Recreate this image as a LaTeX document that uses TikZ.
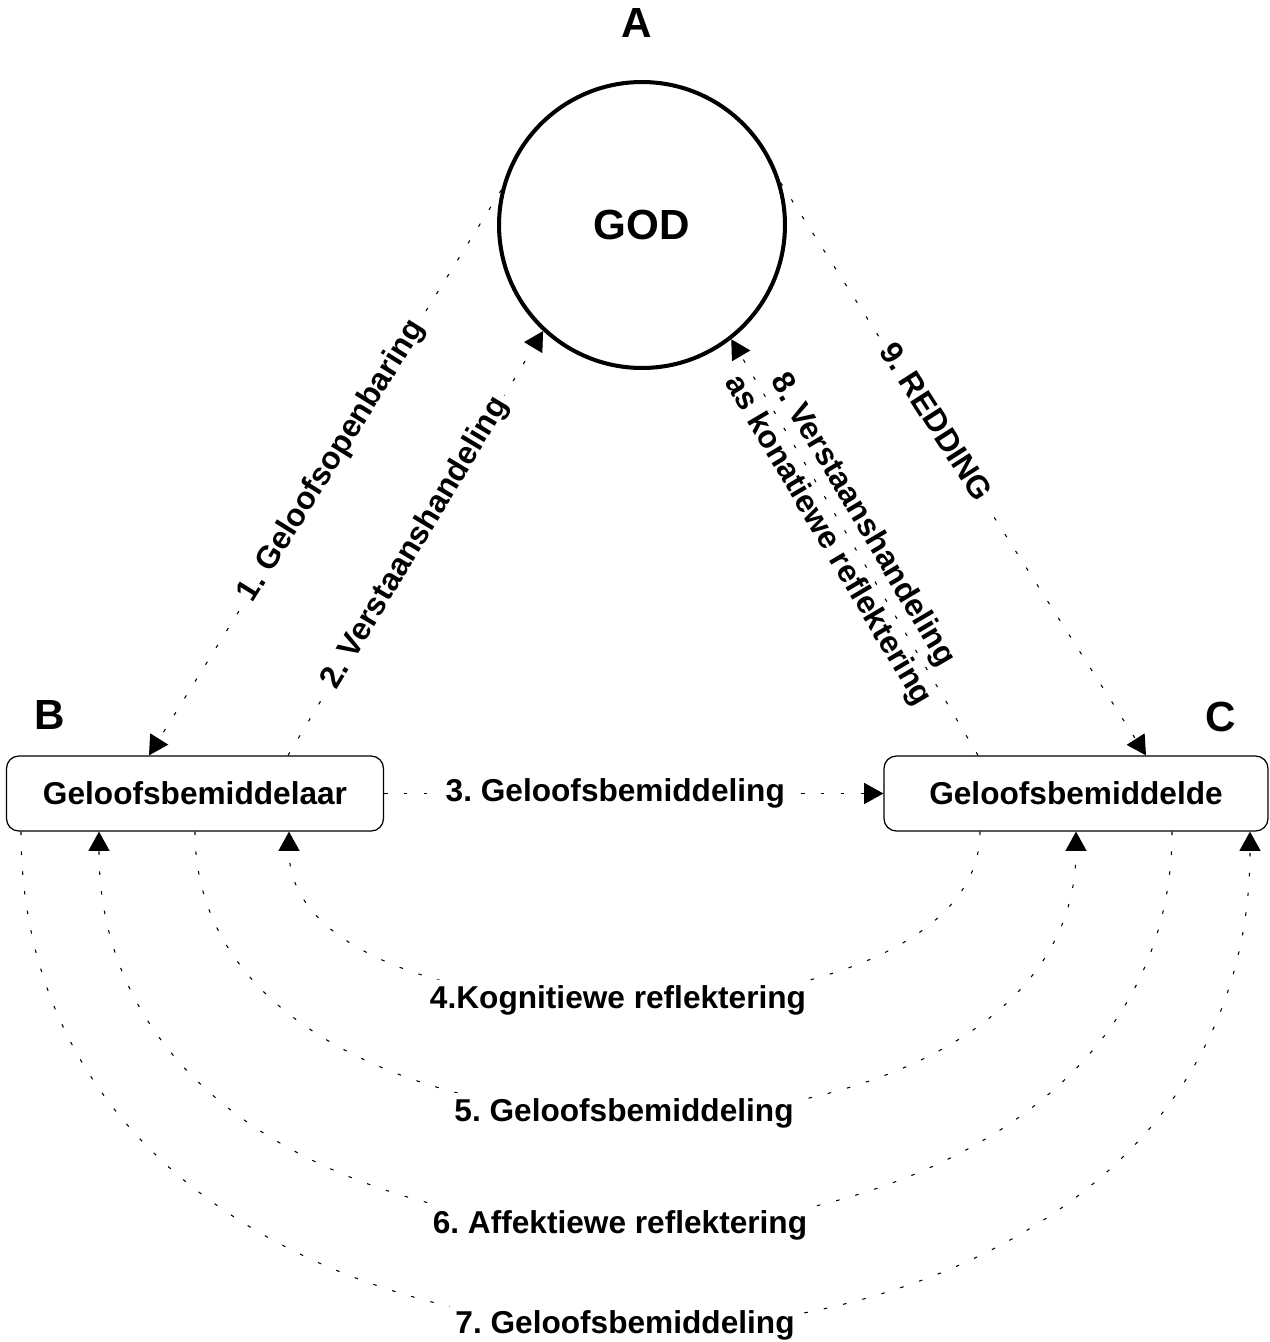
\documentclass[tikz,border=0pt]{standalone}
\usepackage{fontspec}
\setmainfont{Liberation Sans}
\usetikzlibrary{arrows.meta,calc}
\frenchspacing
\begin{document}
\frenchspacing
\begin{tikzpicture}[x=0.02cm,y=-0.02cm,
  lbl/.style={font=\fontsize{18}{23}\selectfont\bfseries, text height=13pt, text depth=4pt, inner sep=3pt},
  lblfill/.style={lbl, fill=white},
  lbltwo/.style={font=\fontsize{18}{23}\selectfont\bfseries, align=center, inner sep=2pt},
  conn/.style={line width=0.6pt, dash pattern=on 2pt off 9.3pt, -{Triangle[length=11pt,width=12pt]}},
  box/.style={draw, line width=0.7pt, rounded corners=7pt, minimum height=1.5cm, inner sep=0pt,
    font=\fontsize{18}{22}\selectfont\bfseries},
  big/.style={font=\fontsize{24}{28}\selectfont\bfseries, inner sep=0pt}]
\useasboundingbox (0,0) rectangle (1269,1342);

% nodes
\node[big, draw, circle, line width=2.3pt, minimum size=5.72cm] (G) at (642,225) {GOD};
\node[box, minimum width=7.54cm] (B) at (195,793.5) {Geloofsbemiddelaar};
\node[box, minimum width=7.68cm] (C) at (1076,793.5) {Geloofsbemiddelde};
\node[big] (LA) at (637,23) {A};
\node[big] (LB) at (50,715) {B};
\node[big] (LC) at (1221,717) {C};

% straight connectors
\draw[conn] (G.166) -- node[lblfill, sloped, pos=0.48] {1. Geloofsopenbaring} ($(B.north)+(-46,0)$);
\draw[conn] ($(B.north)+(93,0)$) -- node[lblfill, sloped, pos=0.5] {2. Verstaanshandeling} (G.227);
\draw[conn] (B.east) -- node[lblfill, pos=0.463] {3. Geloofsbemiddeling} (C.west);
\draw[conn] ($(C.north)+(-98,0)$) -- node[lbltwo, sloped, pos=0.54] {8. Verstaanshandeling\\as konatiewe reflektering} (G.-52);
\draw[conn] (G.17) -- node[lblfill, sloped, pos=0.42] {9. REDDING} ($(C.north)+(70,0)$);

% arcs
\draw[conn] ($(C.south)+(-96,0)$) .. controls +(0,225) and +(0,225) .. ($(B.south)+(94,0)$)
  node[lblfill, pos=0.5, xshift=-0.33cm] {4.Kognitiewe reflektering};
\draw[conn] (B.south) .. controls +(0,376) and +(0,376) .. (C.south)
  node[lblfill, pos=0.5, xshift=-0.23cm] {5. Geloofsbemiddeling};
\draw[conn] ($(C.south)+(96,0)$) .. controls +(0,525) and +(0,525) .. ($(B.south)+(-96,0)$)
  node[lblfill, pos=0.5, xshift=-0.31cm] {6. Affektiewe reflektering};
\draw[conn] ($(B.south)+(-174,0)$) .. controls +(0,659) and +(0,659) .. ($(C.south)+(174,0)$)
  node[lblfill, pos=0.5, xshift=-0.21cm] {7. Geloofsbemiddeling};
\end{tikzpicture}
\end{document}
